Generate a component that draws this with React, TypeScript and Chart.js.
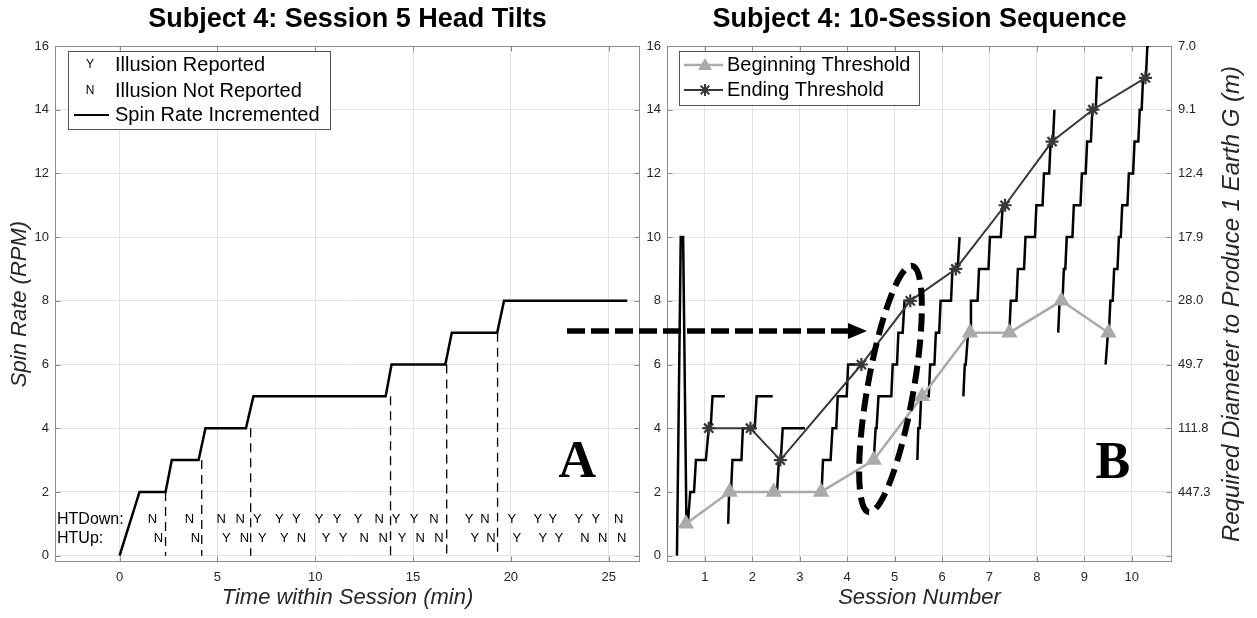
import React, { useEffect, useRef } from 'react';
import { Chart, registerables } from 'chart.js';
Chart.register(...registerables);

const SANS = '"Liberation Sans", Arial, Helvetica, sans-serif';
const SERIF = '"Liberation Serif", "Times New Roman", serif';
const TXT = '#262626';
const GRID = '#e3e3e3';
const AXIS = '#8c8c8c';

// ---------- Panel A: Session 5 head tilts ----------
const spinTime = [0, 1.02, 2.35, 2.67, 4.04, 4.39, 6.46, 6.84, 13.6, 13.9, 16.65, 16.98, 19.3, 19.65, 25.95];
const spinRate = [0, 2, 2, 3, 3, 4, 4, 5, 5, 6, 6, 7, 7, 8, 8];
const incrementTime = [2.35, 4.2, 6.7, 13.85, 16.72, 19.32];
const incrementFrom = [2, 3, 4, 5, 6, 7];
const htDownTime = [1.68, 3.57, 5.2, 6.17, 7.04, 8.16, 9.03, 10.2, 11.12, 12.19, 13.27, 14.13, 15.05, 16.07, 17.86, 18.67, 20.05, 21.38, 22.14, 23.47, 24.34, 25.51];
const htDownResp = ['N', 'N', 'N', 'N', 'Y', 'Y', 'Y', 'Y', 'Y', 'Y', 'N', 'Y', 'Y', 'N', 'Y', 'N', 'Y', 'Y', 'Y', 'Y', 'Y', 'N'];
const htUpTime = [1.99, 3.88, 5.46, 6.38, 7.3, 8.42, 9.29, 10.56, 11.43, 12.5, 13.47, 14.44, 15.36, 16.33, 18.16, 18.98, 20.31, 21.63, 22.45, 23.78, 24.69, 25.66];
const htUpResp = ['N', 'N', 'Y', 'N', 'Y', 'Y', 'N', 'Y', 'Y', 'N', 'N', 'Y', 'N', 'N', 'Y', 'N', 'Y', 'Y', 'Y', 'N', 'N', 'N'];
const htDownLevel = 1.13;
const htUpLevel = 0.53;
const timeTicks = [0, 5, 10, 15, 20, 25];
const rpmTicks = [0, 2, 4, 6, 8, 10, 12, 14, 16];

// ---------- Panel B: 10-session sequence ----------
const beginSession = [0.6, 1.52, 2.45, 3.45, 4.56, 5.58, 6.59, 7.42, 8.52, 9.51];
const beginRPM = [1, 2, 2, 2, 3, 5, 7, 7, 8, 7];
const endSession = [1.08, 1.96, 2.59, 4.3, 5.33, 6.29, 7.33, 8.32, 9.18, 10.29];
const endRPM = [4, 4, 3, 6, 8, 9, 11, 13, 14, 15];
const traceX = [
  [0.41, 0.49, 0.54, 0.61, 0.64, 0.69, 0.77, 0.81, 1.02, 1.08, 1.12, 1.16, 1.42],
  [1.49, 1.51, 1.55, 1.58, 1.77, 1.8, 2.05, 2.09, 2.43],
  [2.52, 2.56, 2.6, 2.64, 3.11],
  [3.46, 3.49, 3.65, 3.69, 3.77, 3.8, 3.99, 4.02, 4.24],
  [4.56, 4.6, 4.62, 4.66, 4.93, 4.96, 5.05, 5.08, 5.17, 5.21, 5.33],
  [5.48, 5.5, 5.53, 5.56, 5.72, 5.75, 5.84, 5.87, 5.94, 5.97, 6.19, 6.22, 6.33, 6.37],
  [6.45, 6.48, 6.5, 6.55, 6.59, 6.61, 6.75, 6.78, 6.98, 7.01, 7.24, 7.28, 7.33],
  [7.42, 7.45, 7.57, 7.6, 7.73, 7.76, 7.96, 7.99, 8.12, 8.15, 8.26, 8.29, 8.34, 8.37],
  [8.45, 8.48, 8.54, 8.57, 8.6, 8.63, 8.75, 8.78, 8.92, 8.95, 9.03, 9.06, 9.14, 9.17, 9.24, 9.27, 9.38],
  [9.45, 9.5, 9.52, 9.55, 9.6, 9.63, 9.7, 9.73, 9.77, 9.8, 9.91, 9.94, 10.03, 10.06, 10.14, 10.17, 10.21, 10.24, 10.3, 10.33, 10.37],
];
const traceY = [
  [0, 10, 10, 1, 1, 2, 2, 3, 3, 4, 4, 5, 5],
  [1, 2, 2, 3, 3, 4, 4, 5, 5],
  [2, 3, 3, 4, 4],
  [2, 3, 3, 4, 4, 5, 5, 6, 6],
  [3, 4, 4, 5, 5, 6, 6, 7, 7, 8, 8],
  [3, 4, 4, 5, 5, 6, 6, 7, 7, 8, 8, 9, 9, 10],
  [5, 6, 6, 7, 7, 8, 8, 9, 9, 10, 10, 11, 11],
  [7, 8, 8, 9, 9, 10, 10, 11, 11, 12, 12, 13, 13, 14],
  [7, 8, 8, 9, 9, 10, 10, 11, 11, 12, 12, 13, 13, 14, 14, 15, 15],
  [6, 7, 7, 8, 8, 9, 9, 10, 10, 11, 11, 12, 12, 13, 13, 14, 14, 15, 15, 16, 16],
];
const sessionTicks = [1, 2, 3, 4, 5, 6, 7, 8, 9, 10];
const diameterLabels = ['', '447.3', '111.8', '49.7', '28.0', '17.9', '12.4', '9.1', '7.0'];

const BEGIN_COLOR = '#aaaaaa';
const END_COLOR = '#383838';

const boxPlugin = {
  id: 'matlabBox',
  beforeDatasetsDraw(chart: any) {
    const { ctx, chartArea, scales } = chart;
    const l = Math.round(chartArea.left) + 0.5;
    const r = Math.round(chartArea.right) - 0.5;
    const t = Math.round(chartArea.top) + 0.5;
    const b = Math.round(chartArea.bottom) - 0.5;
    ctx.save();
    ctx.strokeStyle = AXIS;
    ctx.lineWidth = 1;
    ctx.strokeRect(l, t, r - l, b - t);
    ctx.beginPath();
    scales.x.ticks.forEach((tk: any) => {
      const px = Math.round(scales.x.getPixelForValue(tk.value)) + 0.5;
      ctx.moveTo(px, b); ctx.lineTo(px, b - 5);
      ctx.moveTo(px, t); ctx.lineTo(px, t + 5);
    });
    scales.y.ticks.forEach((tk: any) => {
      const py = Math.round(scales.y.getPixelForValue(tk.value)) + 0.5;
      ctx.moveTo(l, py); ctx.lineTo(l + 5, py);
      ctx.moveTo(r, py); ctx.lineTo(r - 5, py);
    });
    ctx.stroke();
    ctx.restore();
  },
};

const leftOverlay = {
  id: 'leftOverlay',
  afterDatasetsDraw(chart: any) {
    const { ctx, chartArea, scales } = chart;
    const xs = scales.x, ys = scales.y;
    ctx.save();
    ctx.fillStyle = '#000';
    ctx.textAlign = 'center';
    ctx.textBaseline = 'middle';
    ctx.font = `13px ${SANS}`;
    htDownTime.forEach((t, i) => ctx.fillText(htDownResp[i], xs.getPixelForValue(t), ys.getPixelForValue(htDownLevel)));
    htUpTime.forEach((t, i) => ctx.fillText(htUpResp[i], xs.getPixelForValue(t), ys.getPixelForValue(htUpLevel)));
    ctx.textAlign = 'left';
    ctx.font = `16px ${SANS}`;
    ctx.fillText('HTDown:', chartArea.left + 2, ys.getPixelForValue(htDownLevel));
    ctx.fillText('HTUp:', chartArea.left + 2, ys.getPixelForValue(htUpLevel));

    // legend
    const bx = chartArea.left + 13, by = chartArea.top + 5, bw = 262, bh = 78;
    ctx.fillStyle = '#fff';
    ctx.fillRect(bx, by, bw, bh);
    ctx.strokeStyle = '#555';
    ctx.lineWidth = 1;
    ctx.strokeRect(bx + 0.5, by + 0.5, bw, bh);
    ctx.fillStyle = '#000';
    ctx.textAlign = 'center';
    ctx.font = `12px ${SANS}`;
    ctx.fillText('Y', bx + 22, by + 14);
    ctx.fillText('N', bx + 22, by + 40);
    ctx.beginPath();
    ctx.strokeStyle = '#000';
    ctx.lineWidth = 2;
    ctx.moveTo(bx + 6, by + 64); ctx.lineTo(bx + 41, by + 64);
    ctx.stroke();
    ctx.textAlign = 'left';
    ctx.font = `20px ${SANS}`;
    ctx.fillText('Illusion Reported', bx + 47, by + 14);
    ctx.fillText('Illusion Not Reported', bx + 47, by + 40);
    ctx.fillText('Spin Rate Incremented', bx + 47, by + 64);

    ctx.textAlign = 'center';
    ctx.font = `bold 52px ${SERIF}`;
    ctx.fillText('A', xs.getPixelForValue(23.4), ys.getPixelForValue(2.9));
    ctx.restore();
  },
};

const rightOverlay = {
  id: 'rightOverlay',
  afterDatasetsDraw(chart: any) {
    const { ctx, chartArea, scales, width } = chart;
    const xs = scales.x, ys = scales.y;
    ctx.save();
    // legend
    const bx = chartArea.left + 12, by = chartArea.top + 5, bw = 240, bh = 54;
    ctx.fillStyle = '#fff';
    ctx.fillRect(bx, by, bw, bh);
    ctx.strokeStyle = '#555';
    ctx.lineWidth = 1;
    ctx.strokeRect(bx + 0.5, by + 0.5, bw, bh);
    const r1 = by + 14, r2 = by + 39;
    ctx.lineWidth = 2.5;
    ctx.strokeStyle = BEGIN_COLOR;
    ctx.beginPath(); ctx.moveTo(bx + 5, r1); ctx.lineTo(bx + 44, r1); ctx.stroke();
    ctx.fillStyle = BEGIN_COLOR;
    ctx.beginPath();
    ctx.moveTo(bx + 26, r1 - 7); ctx.lineTo(bx + 33, r1 + 5); ctx.lineTo(bx + 19, r1 + 5); ctx.closePath();
    ctx.fill();
    ctx.strokeStyle = END_COLOR;
    ctx.lineWidth = 2;
    ctx.beginPath(); ctx.moveTo(bx + 5, r2); ctx.lineTo(bx + 44, r2); ctx.stroke();
    ctx.beginPath();
    const cx = bx + 26, s = 6, d = 4.3;
    ctx.moveTo(cx - s, r2); ctx.lineTo(cx + s, r2);
    ctx.moveTo(cx, r2 - s); ctx.lineTo(cx, r2 + s);
    ctx.moveTo(cx - d, r2 - d); ctx.lineTo(cx + d, r2 + d);
    ctx.moveTo(cx - d, r2 + d); ctx.lineTo(cx + d, r2 - d);
    ctx.stroke();
    ctx.fillStyle = '#000';
    ctx.textAlign = 'left';
    ctx.textBaseline = 'middle';
    ctx.font = `20px ${SANS}`;
    ctx.fillText('Beginning Threshold', bx + 48, r1);
    ctx.fillText('Ending Threshold', bx + 48, r2);

    ctx.textAlign = 'center';
    ctx.font = `bold 52px ${SERIF}`;
    ctx.fillText('B', xs.getPixelForValue(9.6), ys.getPixelForValue(2.85));

    // right axis title (reads bottom-to-top)
    ctx.fillStyle = TXT;
    ctx.font = `italic 24px ${SANS}`;
    ctx.translate(width - 25, (chartArea.top + chartArea.bottom) / 2);
    ctx.rotate(-Math.PI / 2);
    ctx.fillText('Required Diameter to Produce 1 Earth G (m)', 0, 0);
    ctx.restore();
  },
};

function baseScales(xTicks: number[], xMin: number, xMax: number, xTitle: string, yWidth: number, yTitle: string | null) {
  return {
    x: {
      type: 'linear', min: xMin, max: xMax,
      afterBuildTicks: (s: any) => { s.ticks = xTicks.map((v) => ({ value: v })); },
      afterFit: (s: any) => { s.height = 56; },
      grid: { color: GRID, drawTicks: false },
      border: { display: false },
      ticks: { color: TXT, font: { family: SANS, size: 13 }, padding: 8, callback: (v: any) => String(v) },
      title: { display: true, text: xTitle, color: TXT, font: { family: SANS, size: 22, style: 'italic' }, padding: { top: 0, bottom: 7 } },
    },
    y: {
      type: 'linear', min: -0.2, max: 16,
      afterBuildTicks: (s: any) => { s.ticks = rpmTicks.map((v) => ({ value: v })); },
      afterFit: (s: any) => { s.width = yWidth; },
      grid: { color: GRID, drawTicks: false },
      border: { display: false },
      ticks: { color: TXT, font: { family: SANS, size: 13 }, padding: 6, callback: (v: any) => String(v) },
      title: yTitle
        ? { display: true, text: yTitle, color: TXT, font: { family: SANS, size: 22, style: 'italic' }, padding: { top: 7, bottom: 0 } }
        : { display: false },
    },
  };
}

function titleOpts(text: string) {
  return {
    display: true, text, fullSize: false, color: '#000',
    font: { family: SANS, size: 27, weight: 'bold' },
    padding: { top: 3, bottom: 10.6 },
  };
}

export default function App() {
  const leftRef = useRef<HTMLCanvasElement>(null);
  const rightRef = useRef<HTMLCanvasElement>(null);

  useEffect(() => {
    Chart.defaults.font.family = SANS;
    const left = new Chart(leftRef.current as HTMLCanvasElement, {
      type: 'scatter',
      data: {
        datasets: [
          {
            data: spinTime.map((t, i) => ({ x: t, y: spinRate[i] })),
            showLine: true, borderColor: '#000', borderWidth: 2.5, pointRadius: 0, tension: 0,
          },
          ...incrementTime.map((t, i) => ({
            data: [{ x: t, y: incrementFrom[i] }, { x: t, y: 0 }],
            showLine: true, borderColor: '#000', borderWidth: 1.3, borderDash: [9, 6], pointRadius: 0,
          })),
        ],
      } as any,
      options: {
        animation: false, responsive: true, maintainAspectRatio: false, events: [],
        layout: { padding: { top: 0, left: 0, right: 5, bottom: 0 } },
        plugins: { legend: { display: false }, tooltip: { enabled: false }, title: titleOpts('Subject 4: Session 5 Head Tilts') as any },
        scales: baseScales(timeTicks, -3.3, 26.6, 'Time within Session (min)', 55, 'Spin Rate (RPM)') as any,
      },
      plugins: [boxPlugin, leftOverlay],
    });

    const y2 = {
      type: 'linear', position: 'right', min: -0.2, max: 16,
      afterBuildTicks: (s: any) => { s.ticks = rpmTicks.map((v) => ({ value: v })); },
      afterFit: (s: any) => { s.width = 85; },
      grid: { display: false, drawTicks: false },
      border: { display: false },
      ticks: { color: TXT, font: { family: SANS, size: 13 }, padding: 6, callback: (v: any) => diameterLabels[rpmTicks.indexOf(v)] },
    };

    const right = new Chart(rightRef.current as HTMLCanvasElement, {
      type: 'scatter',
      data: {
        datasets: [
          {
            label: 'Ending Threshold',
            data: endSession.map((x, i) => ({ x, y: endRPM[i] })),
            showLine: true, borderColor: END_COLOR, borderWidth: 2, tension: 0,
            pointStyle: 'star', pointRadius: 6.5, pointBorderWidth: 2.2, pointBorderColor: END_COLOR,
          },
          {
            label: 'Beginning Threshold',
            data: beginSession.map((x, i) => ({ x, y: beginRPM[i] })),
            showLine: true, borderColor: BEGIN_COLOR, borderWidth: 2.5, tension: 0,
            pointStyle: 'triangle', pointRadius: 7, pointBackgroundColor: BEGIN_COLOR, pointBorderColor: BEGIN_COLOR,
          },
          ...traceX.map((xs, k) => ({
            label: 'Session ' + (k + 1),
            data: xs.map((x, i) => ({ x, y: traceY[k][i] })),
            showLine: true, borderColor: '#000', borderWidth: 2.5, pointRadius: 0, tension: 0,
          })),
        ],
      } as any,
      options: {
        animation: false, responsive: true, maintainAspectRatio: false, events: [],
        layout: { padding: { top: 0, left: 0, right: 0, bottom: 0 } },
        plugins: { legend: { display: false }, tooltip: { enabled: false }, title: titleOpts('Subject 4: 10-Session Sequence') as any },
        scales: { ...baseScales(sessionTicks, 0.2, 10.85, 'Session Number', 27, null), y2 } as any,
      },
      plugins: [boxPlugin, rightOverlay],
    });

    return () => { left.destroy(); right.destroy(); };
  }, []);

  return (
    <div style={{ position: 'fixed', left: 0, top: 0, width: 1257, height: 618, background: '#fff', overflow: 'hidden' }}>
      <div style={{ position: 'absolute', left: 0, top: 0, width: 645, height: 618 }}>
        <canvas ref={leftRef} />
      </div>
      <div style={{ position: 'absolute', left: 640, top: 0, width: 617, height: 618 }}>
        <canvas ref={rightRef} />
      </div>
      <svg width={1257} height={618} style={{ position: 'absolute', left: 0, top: 0, pointerEvents: 'none' }}>
        <line x1={567} y1={331} x2={850} y2={331} stroke="#000" strokeWidth={5.5} strokeDasharray="18 6" />
        <polygon points="848,323 867,331 848,339" fill="#000" />
        <ellipse cx={890.5} cy={389} rx={23} ry={125} transform="rotate(10 890.5 389)"
          fill="none" stroke="#000" strokeWidth={6} strokeDasharray="18 8" />
      </svg>
    </div>
  );
}
